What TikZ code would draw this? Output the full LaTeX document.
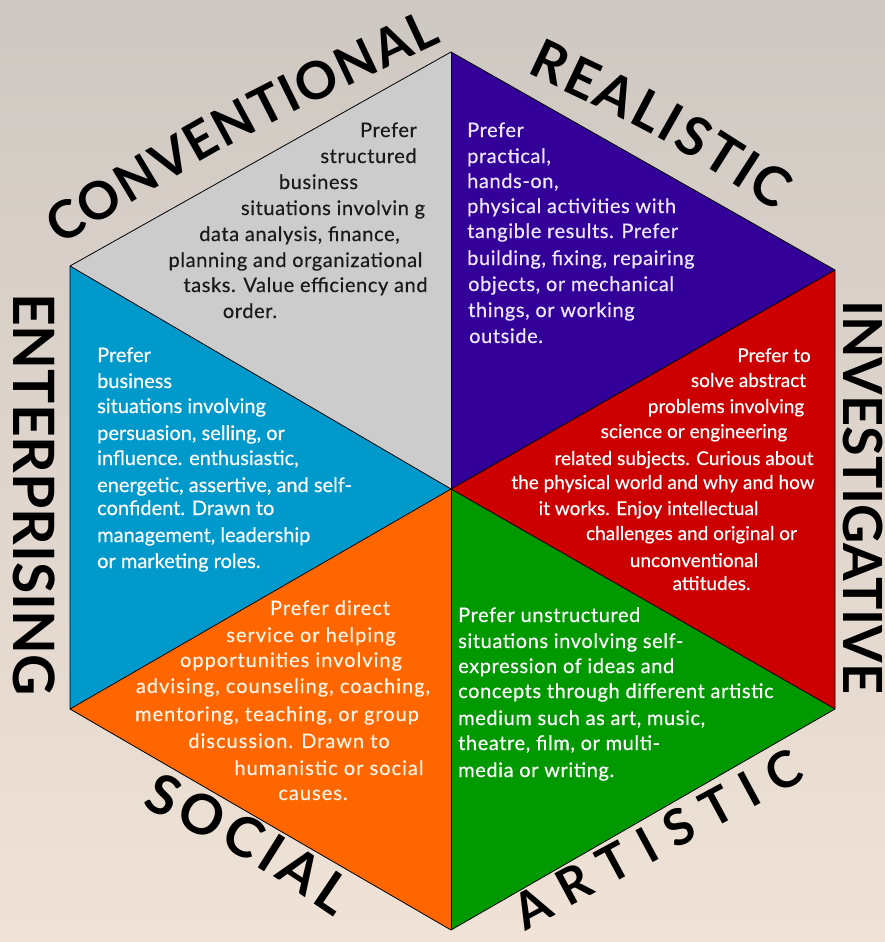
\documentclass[tikz,border=0pt]{standalone}
\usepackage{fontspec}
\setmainfont{Lato}
\newfontfamily\bodyA[LetterSpace=3, FakeBold=0.4]{Lato}
\newfontfamily\bodyN[FakeBold=0.4]{Lato}
\newfontfamily\bodyO[LetterSpace=5, FakeBold=0.4]{Lato}
\usetikzlibrary{decorations.text}
\definecolor{cgray}{HTML}{CCCCCC}
\definecolor{cpurple}{HTML}{330099}
\definecolor{cred}{HTML}{CC0000}
\definecolor{cgreen}{HTML}{009900}
\definecolor{corange}{HTML}{FF6600}
\definecolor{cblue}{HTML}{0099CC}
\definecolor{bgtop}{HTML}{CEC8C2}
\definecolor{bgbot}{HTML}{F0E2D6}
\definecolor{txdark}{HTML}{1A1A1A}
\definecolor{txpurple}{HTML}{EEE8FF}
\definecolor{txorange}{HTML}{FFF4E8}
\newcommand{\headsize}[1]{\fontsize{#1}{#1}\selectfont\bfseries}
\begin{document}
\begin{tikzpicture}[x=1pt,y=-1pt,
  bodya/.style={font=\bodyA\fontsize{20}{24}\selectfont, inner sep=0pt},
  bodyn/.style={font=\bodyN\fontsize{20}{24}\selectfont, inner sep=0pt},
  bodyr/.style={font=\bodyN\fontsize{19}{23}\selectfont, inner sep=0pt},
  bodyo/.style={font=\bodyO\fontsize{20}{24}\selectfont, inner sep=0pt},
  gtx/.style={bodya, text=txdark, anchor=base},
  ptx/.style={bodya, text=txpurple, anchor=base west},
  rtx/.style={bodyr, text=white, anchor=base},
  btx/.style={bodyn, text=white, anchor=base west},
  otx/.style={bodyo, text=txorange, anchor=base},
  grtx/.style={bodya, text=white, anchor=base west},
  edge/.style={draw=black, line width=0.8pt, line join=miter},
  vhead/.style={inner sep=0pt, rotate=-90, anchor=base west, text=black}
]
\useasboundingbox (0,0) rectangle (885,942);
\shade[top color=bgtop, bottom color=bgbot] (0,0) rectangle (885,942);

% hexagon vertices
\coordinate (T) at (451,52);
\coordinate (UR) at (835,270);
\coordinate (LR) at (835,709);
\coordinate (B) at (451,930);
\coordinate (LL) at (70,709);
\coordinate (UL) at (70,266);
\coordinate (C) at (451,489);

\fill[cgray] (C) -- (UL) -- (T) -- cycle;
\fill[cpurple] (C) -- (T) -- (UR) -- cycle;
\fill[cred] (C) -- (UR) -- (LR) -- cycle;
\fill[cgreen] (C) -- (LR) -- (B) -- cycle;
\fill[corange] (C) -- (B) -- (LL) -- cycle;
\fill[cblue] (C) -- (LL) -- (UL) -- cycle;
\draw[edge] (T) -- (UR) -- (LR) -- (B) -- (LL) -- (UL) -- cycle;
\draw[edge] (C) -- (T);
\draw[edge] (C) -- (UR);
\draw[edge] (C) -- (LR);
\draw[edge] (C) -- (B);
\draw[edge] (C) -- (LL);
\draw[edge] (C) -- (UL);

% headings along the sides
\path[decorate, decoration={text along path, text align=fit to path,
  text={|\headsize{52}|CONVENTIONAL}}]
  (60,246) .. controls (245.6,133.5) .. (442,42);
\path[decorate, decoration={text along path, text align=fit to path,
  text={|\headsize{54}|REALISTIC}}]
  (526,73) .. controls (657.1,134.5) .. (775,211);
\path[decorate, decoration={text along path, text align=fit to path,
  text={|\headsize{55}|SOCIAL}}]
  (141.3,806.5) .. controls (241.5,855) .. (333.7,917.3);
\path[decorate, decoration={text along path, text align=fit to path,
  text={|\headsize{50}|ARTISTIC}}]
  (525,931) -- (807.1,779);
\node[vhead, font=\headsize{57}] (ent) at (13,293) {ENTERPRISING};
\node[vhead, font=\headsize{54}] (inv) at (843,300) {INVESTIGATIVE};

% Conventional
\node[gtx] (c1) at (388.5,137) {Prefer};
\node[gtx] (c2) at (368.5,163) {structured};
\node[gtx] (c3) at (318.5,189) {business};
\node[gtx] (c4) at (333,215) {situations involvin g};
\node[gtx] (c5) at (299.5,241) {data analysis, finance,};
\node[gtx] (c6) at (295.5,267) {planning and organizational};
\node[gtx] (c7) at (305.5,292) {tasks. Value efficiency and};
\node[gtx] (c8) at (250,318) {order.};

% Realistic
\node[ptx] (r1) at (467,137) {Prefer};
\node[ptx] (r2) at (467,163) {practical,};
\node[ptx] (r3) at (467,188) {hands-on,};
\node[ptx] (r4) at (467,213) {physical activities with};
\node[ptx] (r5) at (467,238) {tangible results. Prefer};
\node[ptx] (r6) at (467,265) {building, fixing, repairing};
\node[ptx] (r7) at (468,291) {objects, or mechanical};
\node[ptx] (r8) at (468,317) {things, or working};
\node[ptx] (r9) at (469,343) {outside.};

% Investigative
\node[rtx] (i1) at (774,362) {Prefer to};
\node[rtx] (i2) at (748.5,387) {solve abstract};
\node[rtx] (i3) at (726,413) {problems involving};
\node[rtx] (i4) at (694,438) {science or engineering};
\node[rtx] (i5) at (684,465) {related subjects. Curious about};
\node[rtx] (i6) at (663,489) {the physical world and why and how};
\node[rtx] (i7) at (648.5,515) {it works. Enjoy intellectual};
\node[rtx] (i8) at (691.5,540) {challenges and original or};
\node[rtx] (i9) at (694,567) {unconventional};
\node[rtx] (i10) at (711.5,590) {attitudes.};

% Enterprising
\node[btx] (e1) at (97,362) {Prefer};
\node[btx] (e2) at (97,388) {business};
\node[btx] (e3) at (97,413) {situations involving};
\node[btx] (e4) at (97,440) {persuasion, selling, or};
\node[btx] (e5) at (97,465) {influence. enthusiastic,};
\node[btx] (e6) at (97,492) {energetic, assertive, and self-};
\node[btx] (e7) at (97,515) {confident. Drawn to};
\node[btx] (e8) at (97,542) {management, leadership};
\node[btx] (e9) at (97,568) {or marketing roles.};

% Social
\node[otx] (s1) at (330,615) {Prefer direct};
\node[otx] (s2) at (311,642) {service or helping};
\node[otx] (s3) at (291,667) {opportunities involving};
\node[otx] (s4) at (283,693) {advising, counseling, coaching,};
\node[otx] (s5) at (277,721) {mentoring, teaching, or group};
\node[otx] (s6) at (289,748) {discussion. Drawn to};
\node[otx] (s7) at (329,775) {humanistic or social};
\node[otx] (s8) at (313,800) {causes.};

% Artistic
\node[grtx] (a1) at (458,622) {Prefer unstructured};
\node[grtx] (a2) at (458,648) {situations involving self-};
\node[grtx] (a3) at (458,673) {expression of ideas and};
\node[grtx] (a4) at (458,698) {concepts through different artistic};
\node[grtx] (a5) at (458,725) {medium such as art, music,};
\node[grtx] (a6) at (458,750) {theatre, film, or multi-};
\node[grtx] (a7) at (458,777) {media or writing.};
\end{tikzpicture}
\end{document}
